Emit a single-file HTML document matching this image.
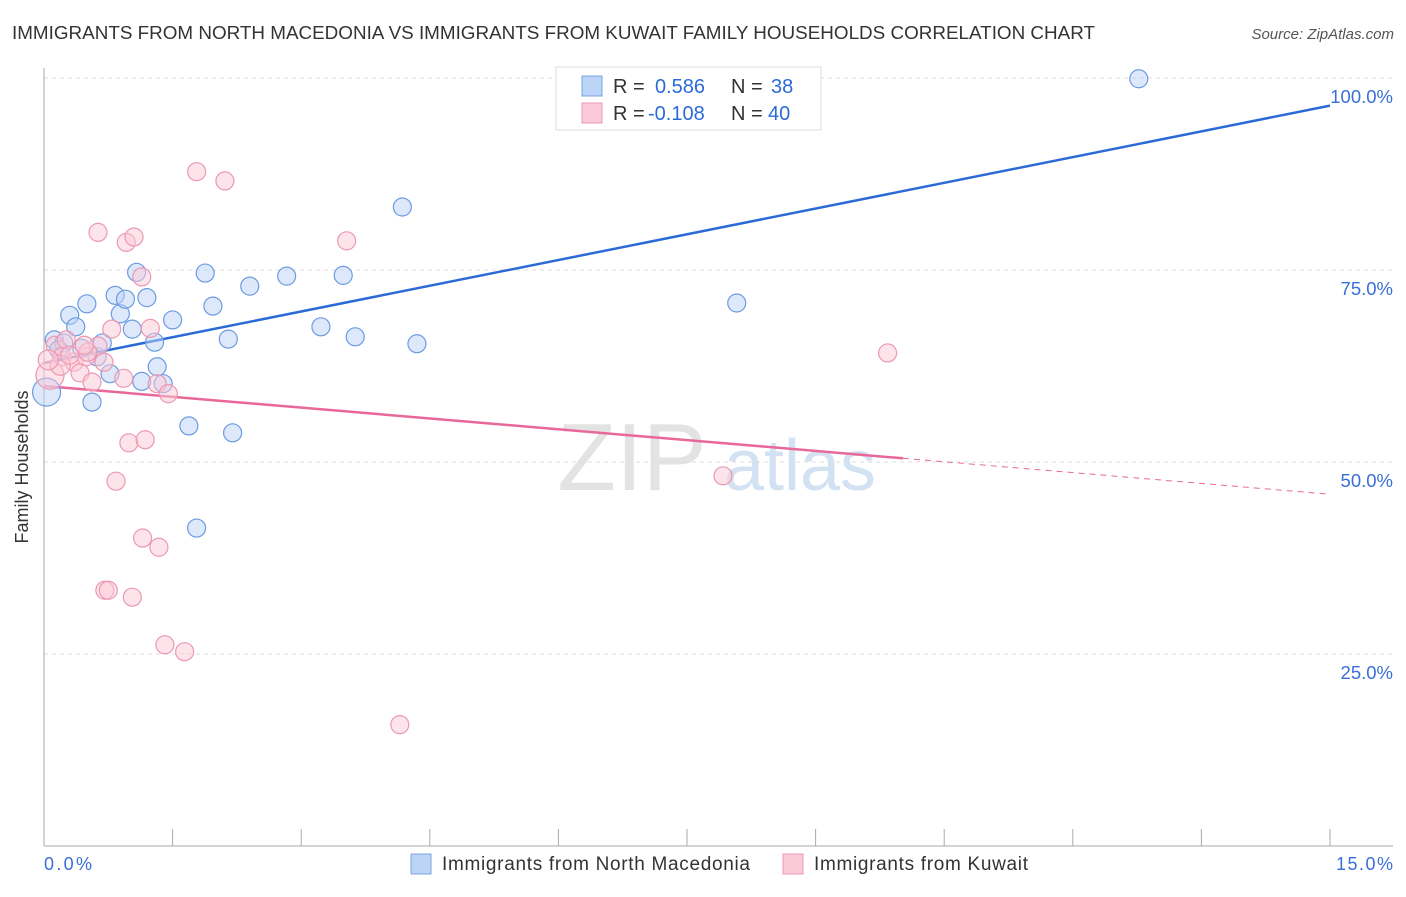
<!DOCTYPE html>
<html><head><meta charset="utf-8"><style>
body{margin:0;background:#fff;font-family:"Liberation Sans",sans-serif;}
svg text{font-family:"Liberation Sans",sans-serif;}
</style></head><body>
<svg id="c" width="1406" height="892" viewBox="0 0 1406 892">
<text x="12" y="39" font-size="18.5" fill="#333" textLength="1083" lengthAdjust="spacingAndGlyphs">IMMIGRANTS FROM NORTH MACEDONIA VS IMMIGRANTS FROM KUWAIT FAMILY HOUSEHOLDS CORRELATION CHART</text>
<text x="1394" y="39" font-size="15" fill="#555" font-style="italic" text-anchor="end">Source: ZipAtlas.com</text>
<g><text x="632" y="490" font-size="96" fill="#ddd" font-family="Liberation Serif" text-anchor="middle" opacity="0.8">ZIP</text><text x="800" y="490" font-size="72" fill="#c9dcef" text-anchor="middle" opacity="0.8">atlas</text></g>
<g id="grid"></g><g id="axes"></g><g id="lines"></g><g id="pts"></g>
<text x="16" y="455" font-size="18" fill="#333" transform="rotate(-90 28 455)" text-anchor="middle">Family Households</text>
<text x="44" y="870" font-size="18" fill="#3a6fd8" textLength="48">0.0%</text>
<text x="1336" y="870" font-size="18" fill="#3a6fd8" textLength="57">15.0%</text>
<g>
<rect x="556" y="67" width="265" height="63" fill="#fff" stroke="#ddd"/>
<rect x="582" y="76" width="20" height="20" fill="#bcd4f5" stroke="#7aa6e6"/>
<rect x="582" y="103" width="20" height="20" fill="#fbcad8" stroke="#ec98b3"/>
<text x="613" y="93" font-size="20" fill="#333">R = <tspan x="655" fill="#2c6bd6">0.586</tspan><tspan x="731">N = </tspan><tspan x="771" fill="#2c6bd6">38</tspan></text>
<text x="613" y="120" font-size="20" fill="#333">R = <tspan x="648" fill="#2c6bd6">-0.108</tspan><tspan x="731">N = </tspan><tspan x="768" fill="#2c6bd6">40</tspan></text>
</g>
<g>
<rect x="411" y="854" width="20" height="20" fill="#bcd4f5" stroke="#7aa6e6"/>
<text x="442" y="870" font-size="19" fill="#333" textLength="308">Immigrants from North Macedonia</text>
<rect x="783" y="854" width="20" height="20" fill="#fbcad8" stroke="#ec98b3"/>
<text x="814" y="870" font-size="19" fill="#333" textLength="214">Immigrants from Kuwait</text>
</g>
</svg>
<script>
const yTicks=[25,50,75,100];
const yTickLabels=["25.0%","50.0%","75.0%","100.0%"];
const xTicks=[0,1.5,3,4.5,6,7.5,9,10.5,12,13.5,15];
const blueX=[0.12,0.23,0.30,0.37,0.50,0.44,0.62,0.68,0.56,0.77,0.83,0.89,0.95,1.03,1.08,1.20,1.14,1.29,1.32,1.39,1.50,1.69,1.78,1.88,1.97,2.15,2.20,2.40,2.83,3.23,3.49,3.63,4.18,4.35,8.08,12.77,0.03,0.17];
const blueY=[65.9,65.5,69.1,67.6,70.6,64.8,63.7,65.5,57.8,61.5,71.7,69.3,71.2,67.3,74.7,71.4,60.5,65.6,62.4,60.2,68.5,54.7,41.4,74.6,70.3,66.0,53.8,72.9,74.2,67.6,74.3,66.3,83.2,65.4,70.7,99.9,59.1,64.6];
const blueR=[9,9,9,9,9,9,9,9,9,9,9,9,9,9,9,9,9,9,9,9,9,9,9,9,9,9,9,9,9,9,9,9,9,9,9,9,14,9];
const pinkX=[1.78,2.11,0.63,0.96,1.05,1.14,3.53,9.84,0.79,1.24,0.13,0.26,0.21,0.35,0.42,0.49,0.56,0.63,0.51,0.93,1.32,1.45,0.99,1.18,0.84,1.15,1.34,0.71,0.75,1.03,1.41,1.64,4.15,7.92,0.07,0.19,0.30,0.70,0.47,0.05];
const pinkY=[87.8,86.6,79.9,78.6,79.3,74.1,78.8,64.2,67.3,67.4,65.2,65.9,63.7,63.0,61.6,63.7,60.4,65.1,64.3,60.9,60.2,58.9,52.5,52.9,47.5,40.1,38.9,33.3,33.3,32.4,26.2,25.3,15.8,48.2,61.3,62.6,63.9,63.0,65.2,63.3];
const pinkR=[9,9,9,9,9,9,9,9,9,9,9,9,9,9,9,9,9,9,9,9,9,9,9,9,9,9,9,9,9,9,9,9,9,9,14,10,9,9,9,10];
const blueFit=[62.9,96.4];
const pinkFit=[59.9,45.8];
const pinkSolidEnd=10.02;
const NS="http://www.w3.org/2000/svg";
const X=v=>44+v/15*1286, Y=v=>846-v*7.68;
function mk(t,a,p){const e=document.createElementNS(NS,t);for(const k in a)e.setAttribute(k,a[k]);p.appendChild(e);return e;}
const grid=document.getElementById('grid'),axes=document.getElementById('axes'),lines=document.getElementById('lines'),pts=document.getElementById('pts');
yTicks.forEach((t,i)=>{
 const l=mk('line',{x1:44,x2:1393,y1:Y(t),y2:Y(t),stroke:'#ddd','stroke-dasharray':'4,4'},grid);
 
 
 const tx=mk('text',{x:1393,y:Y(t)+25,'font-size':18.5,fill:'#3a6fd8','text-anchor':'end'},grid);
 tx.textContent=yTickLabels[i];
 
 
});
const ya=mk('line',{x1:44,x2:44,y1:68,y2:846,stroke:'#aaa'},axes);


const xa=mk('line',{x1:44,x2:1393,y1:846,y2:846,stroke:'#aaa'},axes);


xTicks.forEach(t=>{
 const l=mk('line',{x1:X(t),x2:X(t),y1:829,y2:846,stroke:'#aaa'},axes);
 
 
});
function dots(xs,ys,rs,fill,stroke,name){xs.forEach((x,i)=>{
 const c=mk('circle',{cx:X(x),cy:Y(ys[i]),r:rs[i],fill:fill,'fill-opacity':0.5,stroke:stroke,'stroke-width':1.2},pts);
 
 
});}
dots(blueX,blueY,blueR,'#bcd4f5','#6b9be0','point-macedonia');
dots(pinkX,pinkY,pinkR,'#fbcad8','#ec98b3','point-kuwait');
const bl=mk('line',{x1:X(0),y1:Y(blueFit[0]),x2:X(15),y2:Y(blueFit[1]),stroke:'#2c6bd6','stroke-width':2.5},lines);


const pe=pinkFit[0]+(pinkFit[1]-pinkFit[0])*pinkSolidEnd/15;
const pl=mk('line',{x1:X(0),y1:Y(pinkFit[0]),x2:X(pinkSolidEnd),y2:Y(pe),stroke:'#e8689a','stroke-width':2.5},lines);


const pd=mk('line',{x1:X(pinkSolidEnd),y1:Y(pe),x2:X(15),y2:Y(pinkFit[1]),stroke:'#e8689a','stroke-width':1,'stroke-dasharray':'6,5'},lines);


</script>
</body></html>
